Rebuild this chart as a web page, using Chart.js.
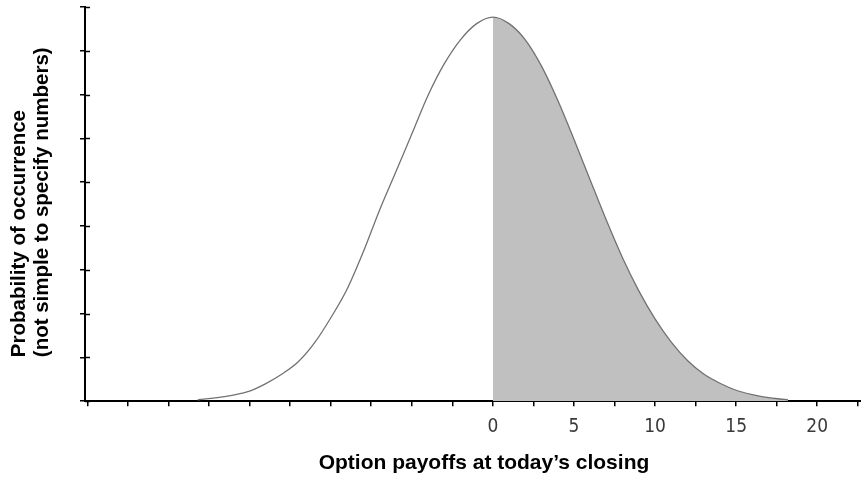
<!DOCTYPE html>
<html>
<head>
<meta charset="utf-8">
<script src="https://cdn.jsdelivr.net/npm/chart.js@4.4.1/dist/chart.umd.min.js"></script>
<style>
html,body{margin:0;padding:0;background:#fff;}
#wrap{width:861px;height:481px;position:relative;}
</style>
</head>
<body>
<div id="wrap"><canvas id="c" width="861" height="481"></canvas></div>
<script>
// Option payoff values (x) and read-off probability heights (y, arbitrary units)
const payoffs = [-18.2,-18,-17,-16,-15,-14,-13,-12,-11,-10,-9,-8,-7,-6,-5,-4,-3,-2,-1,0,1,2,3,4,5,6,7,8,9,10,11,12,13,14,15,16,17,18,18.2];
const probability = [0.03,0.04,0.08,0.14,0.23,0.4,0.62,0.9,1.33,1.9,2.55,3.4,4.35,5.22,6.1,6.98,7.7,8.25,8.62,8.77,8.62,8.25,7.65,6.87,5.98,5.05,4.13,3.27,2.52,1.88,1.35,0.93,0.62,0.41,0.25,0.15,0.08,0.04,0.03];
const xTickLabels = [0,5,10,15,20];
const xTitle = "Option payoffs at today\u2019s closing";
const yTitle = ["Probability of occurrence","(not simple to specify numbers)"];

const curvePts = payoffs.map((x,i)=>({x:x,y:probability[i]}));
const shadedPts = curvePts.filter(p=>p.x>=0);

const innerTicks = {
  id:'innerTicks',
  afterDatasetsDraw(chart){
    const ctx = chart.ctx, ys = chart.scales.y, ca = chart.chartArea;
    ctx.save();
    ctx.strokeStyle = '#000'; ctx.lineWidth = 1.5;
    ys.ticks.forEach(t=>{
      const py = Math.round(ys.getPixelForValue(t.value))+0.5;
      ctx.beginPath(); ctx.moveTo(ca.left, py); ctx.lineTo(ca.left+5, py); ctx.stroke();
    });
    ctx.restore();
  },
  afterDraw(chart){
    const ctx = chart.ctx, ca = chart.chartArea;
    ctx.save();
    ctx.fillStyle = '#000';
    ctx.textBaseline = 'middle';
    ctx.textAlign = 'center';
    ctx.font = 'bold 21px "Liberation Sans", Arial, sans-serif';
    ctx.fillText(xTitle, 484, ca.bottom + 62);
    ctx.font = 'bold 20.5px "Liberation Sans", Arial, sans-serif';
    ctx.translate(0, ca.bottom - 44);
    ctx.rotate(-Math.PI/2);
    ctx.textAlign = 'left';
    ctx.fillText(yTitle[0], 0, 19);
    ctx.fillText(yTitle[1], 0, 42);
    ctx.restore();
  }
};

new Chart(document.getElementById('c'), {
  type:'line',
  data:{
    datasets:[
      {
        data: curvePts,
        borderColor:'#727272',
        borderWidth:1.3,
        pointRadius:0,
        fill:false,
        cubicInterpolationMode:'monotone',
        order:0
      },
      {
        data: shadedPts,
        borderColor:'rgba(0,0,0,0)',
        borderWidth:0,
        backgroundColor:'#c0c0c0',
        pointRadius:0,
        fill:'origin',
        cubicInterpolationMode:'monotone',
        order:1
      }
    ]
  },
  options:{
    responsive:false,
    animation:false,
    layout:{padding:{left:80,top:7,right:0,bottom:34}},
    plugins:{legend:{display:false},tooltip:{enabled:false},title:{display:false}},
    scales:{
      x:{
        type:'linear',
        min:-25.15, max:22.7,
        afterFit:(s)=>{ s.paddingRight = 0; },
        border:{display:true,color:'#000',width:2},
        grid:{drawOnChartArea:false,drawTicks:true,tickLength:5,color:'#000',lineWidth:1.5},
        ticks:{
          stepSize:2.5,
          includeBounds:false,
          autoSkip:false,
          maxRotation:0,
          padding:9,
          color:'#3a3a3a',
          font:{family:'"Liberation Sans Narrow", "DejaVu Sans Condensed", sans-serif',size:19},
          callback:(v)=> xTickLabels.includes(v) ? String(v) : ''
        }
      },
      y:{
        type:'linear',
        min:0, max:9,
        border:{display:true,color:'#000',width:2},
        grid:{drawOnChartArea:false,drawTicks:true,tickLength:5,color:'#000',lineWidth:1.5},
        ticks:{stepSize:1,display:false}
      }
    }
  },
  plugins:[innerTicks]
});
</script>
</body>
</html>
